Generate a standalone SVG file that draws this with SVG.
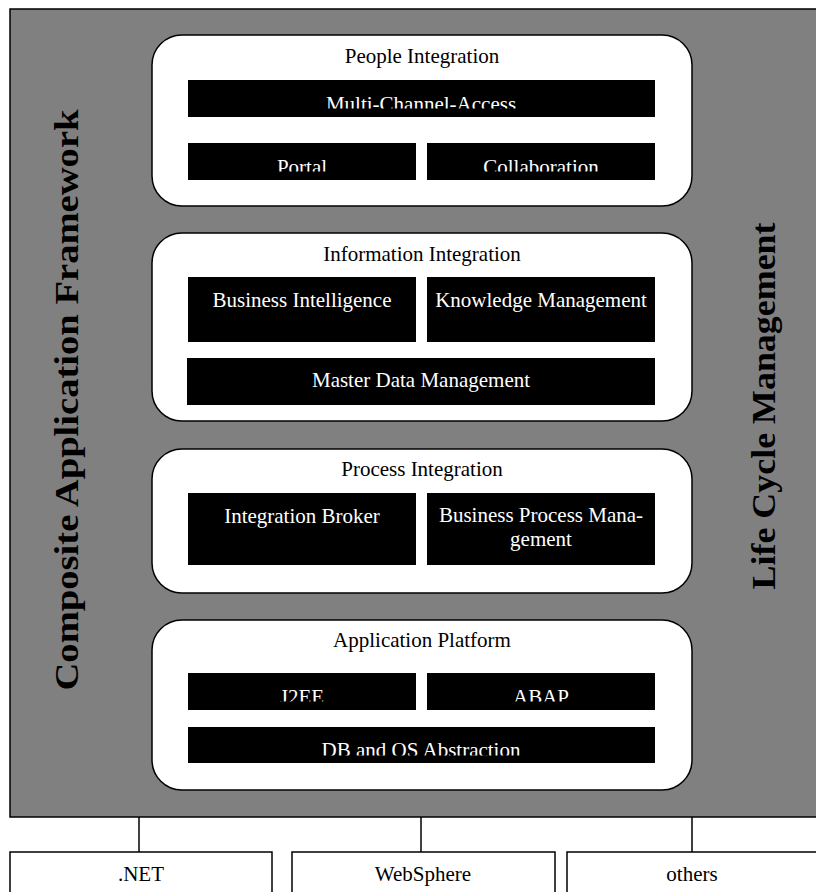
<svg xmlns="http://www.w3.org/2000/svg" width="816" height="892" viewBox="0 0 816 892">
  <style>
    .frame { fill: #808080; stroke: #000; stroke-width: 1.5; }
    .layer { fill: #fff; stroke: #000; stroke-width: 1.5; }
    .bar { fill: #000; }
    .title { font-family: "Liberation Serif", "Times New Roman", serif; font-size: 21px; fill: #000; text-anchor: middle; }
    .lbl { font-family: "Liberation Serif", "Times New Roman", serif; font-size: 21px; fill: #fff; text-anchor: middle; }
    .side { font-family: "Liberation Serif", "Times New Roman", serif; font-size: 33px; font-weight: bold; fill: #000; text-anchor: middle; }
    .base { fill: #fff; stroke: #000; stroke-width: 1.5; }
    .link { stroke: #000; stroke-width: 1.5; fill: none; }
  </style>
  <defs>
    <clipPath id="clipMulti"><rect x="188" y="80" width="467" height="28.5"/></clipPath>
    <clipPath id="clipRow2"><rect x="188" y="143" width="467" height="28.5"/></clipPath>
    <clipPath id="clipRow1"><rect x="188" y="673" width="467" height="28.5"/></clipPath>
    <clipPath id="clipDb"><rect x="188" y="727" width="467" height="28.5"/></clipPath>
  </defs>

  <!-- outer framework area -->
  <g id="framework">
    <rect class="frame" x="10" y="9" width="830" height="808"/>
    <text class="side" transform="translate(78,400) rotate(-90)" textLength="581" lengthAdjust="spacingAndGlyphs">Composite Application Framework</text>
    <text class="side" transform="translate(775,406) rotate(-90)" textLength="367" lengthAdjust="spacingAndGlyphs">Life Cycle Management</text>
  </g>

  <!-- People Integration -->
  <g id="people-integration">
    <rect class="layer" x="152" y="35" width="540" height="171" rx="30" ry="30"/>
    <text class="title" x="422" y="63">People Integration</text>
    <rect class="bar" x="188" y="80" width="467" height="37"/>
    <text class="lbl" x="421" y="111" clip-path="url(#clipMulti)">Multi-Channel-Access</text>
    <rect class="bar" x="188" y="143" width="228" height="37"/>
    <text class="lbl" x="302" y="174" clip-path="url(#clipRow2)">Portal</text>
    <rect class="bar" x="427" y="143" width="228" height="37"/>
    <text class="lbl" x="541" y="174" clip-path="url(#clipRow2)">Collaboration</text>
  </g>

  <!-- Information Integration -->
  <g id="information-integration">
    <rect class="layer" x="152" y="233" width="540" height="188" rx="30" ry="30"/>
    <text class="title" x="422" y="261">Information Integration</text>
    <rect class="bar" x="188" y="277" width="228" height="65"/>
    <text class="lbl" x="302" y="307">Business Intelligence</text>
    <rect class="bar" x="427" y="277" width="228" height="65"/>
    <text class="lbl" x="541" y="307">Knowledge Management</text>
    <rect class="bar" x="187" y="358" width="468" height="47"/>
    <text class="lbl" x="421" y="387">Master Data Management</text>
  </g>

  <!-- Process Integration -->
  <g id="process-integration">
    <rect class="layer" x="152" y="449" width="540" height="144" rx="30" ry="30"/>
    <text class="title" x="422" y="476">Process Integration</text>
    <rect class="bar" x="188" y="493" width="228" height="72"/>
    <text class="lbl" x="302" y="523">Integration Broker</text>
    <rect class="bar" x="427" y="493" width="228" height="72"/>
    <text class="lbl" x="541" y="522">Business Process Mana-</text>
    <text class="lbl" x="541" y="546">gement</text>
  </g>

  <!-- Application Platform -->
  <g id="application-platform">
    <rect class="layer" x="152" y="620" width="540" height="170" rx="30" ry="30"/>
    <text class="title" x="422" y="647">Application Platform</text>
    <rect class="bar" x="188" y="673" width="228" height="37"/>
    <text class="lbl" x="302" y="704" clip-path="url(#clipRow1)">J2EE</text>
    <rect class="bar" x="427" y="673" width="228" height="37"/>
    <text class="lbl" x="541" y="704" clip-path="url(#clipRow1)">ABAP</text>
    <rect class="bar" x="188" y="727" width="467" height="36"/>
    <text class="lbl" x="421" y="757" clip-path="url(#clipDb)">DB and OS Abstraction</text>
  </g>

  <!-- links down to the underlying platforms -->
  <g id="connectors">
    <line class="link" x1="139" y1="817" x2="139" y2="852"/>
    <line class="link" x1="421" y1="817" x2="421" y2="852"/>
    <line class="link" x1="692" y1="817" x2="692" y2="852"/>
  </g>

  <g id="dotnet">
    <rect class="base" x="10" y="852" width="262" height="60"/>
    <text class="title" x="141" y="881">.NET</text>
  </g>
  <g id="websphere">
    <rect class="base" x="292" y="852" width="263" height="60"/>
    <text class="title" x="423" y="881">WebSphere</text>
  </g>
  <g id="others">
    <rect class="base" x="567" y="852" width="280" height="60"/>
    <text class="title" x="692" y="881">others</text>
  </g>
</svg>
